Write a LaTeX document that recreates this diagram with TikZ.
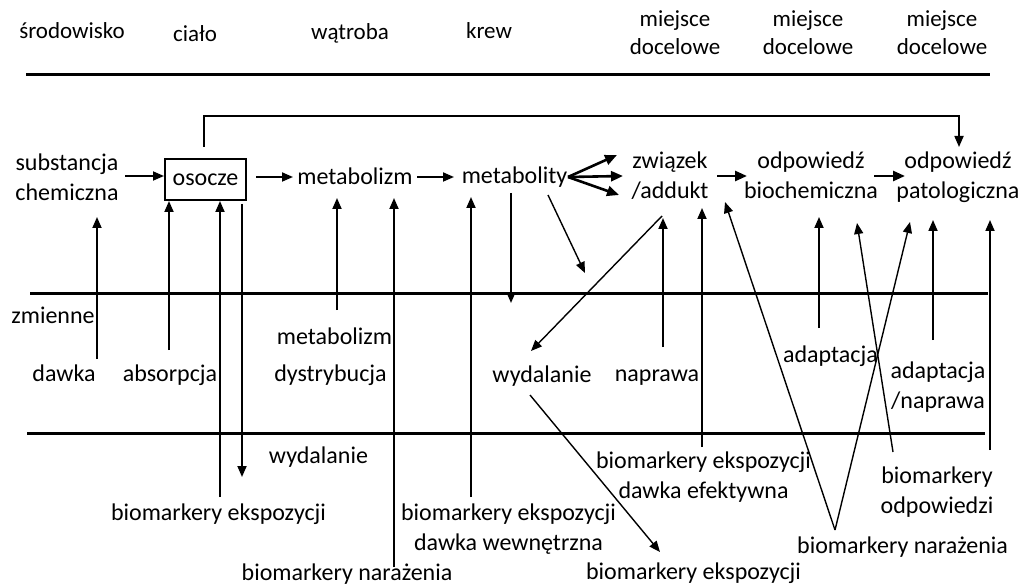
\documentclass[tikz,border=0pt]{standalone}
\usepackage{fontspec}
\setmainfont{Carlito}
\usetikzlibrary{arrows.meta}
\begin{document}
\begin{tikzpicture}[x=1pt,y=-1pt,
  txt/.style={font=\fontsize{24}{30}\selectfont, inner sep=0pt, anchor=base, align=center},
  head/.style={font=\fontsize{23}{28}\selectfont, inner sep=0pt, anchor=base, align=center},
  rule/.style={line width=3pt},
  tipped/.style={-{Triangle[length=11pt,width=9pt]}},
  conn/.style={line width=1.8pt, tipped},
  boldconn/.style={line width=2.6pt, -{Triangle[length=12pt,width=10pt]}},
  slim/.style={line width=1.4pt, tipped},
  plasma/.style={draw, line width=2pt, minimum width=81pt, minimum height=41pt,
                 inner sep=0pt, font=\fontsize{24}{30}\selectfont}
]
\useasboundingbox (0,0) rectangle (1024,585);

% ---------- header (base anchor = last line) ----------
\node[head] (h1) at (72,39) {środowisko};
\node[head] (h2) at (195,42) {ciało};
\node[head] (h3) at (350,40) {wątroba};
\node[head] (h4) at (489,39) {krew};
\node[head] (h5) at (675,55) {miejsce\\docelowe};
\node[head] (h6) at (808,55) {miejsce\\docelowe};
\node[head] (h7) at (942,55) {miejsce\\docelowe};

% ---------- horizontal rules ----------
\draw[rule] (26,75) -- (990,75);
\draw[rule] (30,293) -- (988,293);
\draw[rule] (27,433) -- (985,433);

% ---------- main chain ----------
\node[txt] (subst) at (67,201) {substancja\\chemiczna};
\node[plasma] (osocze) at (205.5,179.5) {osocze};
\node[txt] (metab) at (355,185) {metabolizm};
\node[txt] (metabty) at (514.5,184) {metabolity};
\node[txt] (adduct) at (670,199) {związek\\/addukt};
\node[txt] (biochem) at (811,199) {odpowiedź\\biochemiczna};
\node[txt] (patol) at (958,199) {odpowiedź\\patologiczna};

% ---------- lower labels ----------
\node[txt] (zmienne) at (53,323) {zmienne};
\node[txt] (dawka) at (64,381) {dawka};
\node[txt] (absorp) at (170,381) {absorpcja};
\node[txt] (metabB) at (334.5,344) {metabolizm};
\node[txt] (dystr) at (330.5,381) {dystrybucja};
\node[txt] (wydalA) at (318.5,463) {wydalanie};
\node[txt] (bioeA) at (218.5,520) {biomarkery ekspozycji};
\node[txt] (bionA) at (347,580) {biomarkery narażenia};
\node[txt] (bioeB) at (508.5,550) {biomarkery ekspozycji\\dawka wewnętrzna};
\node[txt] (wydalB) at (542,382) {wydalanie};
\node[txt] (naprawa) at (657,381) {naprawa};
\node[txt] (bioeC) at (703.5,498) {biomarkery ekspozycji\\dawka efektywna};
\node[txt] (bioeD) at (693.5,579) {biomarkery ekspozycji};
\node[txt] (adaptA) at (830.5,362) {adaptacja};
\node[txt] (adaptB) at (938,408) {adaptacja\\/naprawa};
\node[txt] (bioodp) at (937,513) {biomarkery\\odpowiedzi};
\node[txt] (bionB) at (902.5,553) {biomarkery narażenia};

% ---------- connector end points ----------
\coordinate (c1) at (125,176);
\coordinate (c2) at (256,177);
\coordinate (c3) at (293,177);
\coordinate (c4) at (417,177);
\coordinate (c5) at (454,177);
\coordinate (fan) at (568,177);
\coordinate (fanA) at (617,155);
\coordinate (fanB) at (623,176);
\coordinate (fanC) at (619,195);
\coordinate (c6) at (717,176);
\coordinate (c7) at (747,176);
\coordinate (c8) at (874,176);
\coordinate (c9) at (905,176);
\coordinate (loopA) at (204,116);
\coordinate (loopB) at (959,116);
\coordinate (loopE) at (959,147);

\coordinate (dawkaT) at (97,359);     \coordinate (dawkaH) at (97,217);
\coordinate (absT) at (169,350);
\coordinate (bioeAT) at (220,497);
\coordinate (wydAT) at (242,204);     \coordinate (wydAH) at (242,477);
\coordinate (metT) at (337,310);      \coordinate (metH) at (337,198);
\coordinate (bionAT) at (394,567);    \coordinate (bionAH) at (394,198);
\coordinate (bioeBT) at (471,497);    \coordinate (bioeBH) at (471,197);
\coordinate (downT) at (511,193);     \coordinate (downH) at (511,303);
\coordinate (diagT) at (548,195);     \coordinate (diagH) at (585,273);
\coordinate (excT) at (662,216);      \coordinate (excH) at (531,351);
\coordinate (napT) at (663,347);      \coordinate (napH) at (663,218);
\coordinate (bioeCT) at (702,447);    \coordinate (bioeCH) at (702,208);
\coordinate (vtx) at (835,530);
\coordinate (vL) at (725,202);        \coordinate (vR) at (910,222);
\coordinate (adAT) at (819,328);      \coordinate (adAH) at (819,217);
\coordinate (odpT) at (893,452);      \coordinate (odpH) at (857,223);
\coordinate (adBT) at (933,340);      \coordinate (adBH) at (933,220);
\coordinate (rgtT) at (990,450);      \coordinate (rgtH) at (990,220);
\coordinate (wyBT) at (530,395);      \coordinate (wyBH) at (660,552);

% ---------- chain arrows ----------
\draw[conn] (c1) -- (osocze.west |- c1);
\draw[conn] (c2) -- (c3);
\draw[conn] (c4) -- (c5);
\draw[boldconn] (fan) -- (fanA);
\draw[boldconn] (fan) -- (fanB);
\draw[boldconn] (fan) -- (fanC);
\draw[boldconn] (c6) -- (c7);
\draw[boldconn] (c8) -- (c9);
\draw[conn] ([yshift=11pt]osocze.north -| loopA) -- (loopA) -- (loopB) -- (loopE);

% ---------- vertical influences ----------
\draw[conn] (dawkaT) -- (dawkaH);
\draw[conn] (absT) -- (absT |- osocze.south);
\draw[conn] (bioeAT) -- (bioeAT |- osocze.south);
\draw[conn] (wydAT) -- (wydAH);
\draw[conn] (metT) -- (metH);
\draw[conn] (bionAT) -- (bionAH);
\draw[conn] (bioeBT) -- (bioeBH);
\draw[conn] (downT) -- (downH);
\draw[slim] (diagT) -- (diagH);
\draw[slim] (excT) -- (excH);
\draw[conn] (napT) -- (napH);
\draw[conn] (bioeCT) -- (bioeCH);
\draw[slim] (vtx) -- (vL);
\draw[slim] (vtx) -- (vR);
\draw[conn] (adAT) -- (adAH);
\draw[slim] (odpT) -- (odpH);
\draw[conn] (adBT) -- (adBH);
\draw[conn] (rgtT) -- (rgtH);
\draw[slim] (wyBT) -- (wyBH);
\end{tikzpicture}
\end{document}
